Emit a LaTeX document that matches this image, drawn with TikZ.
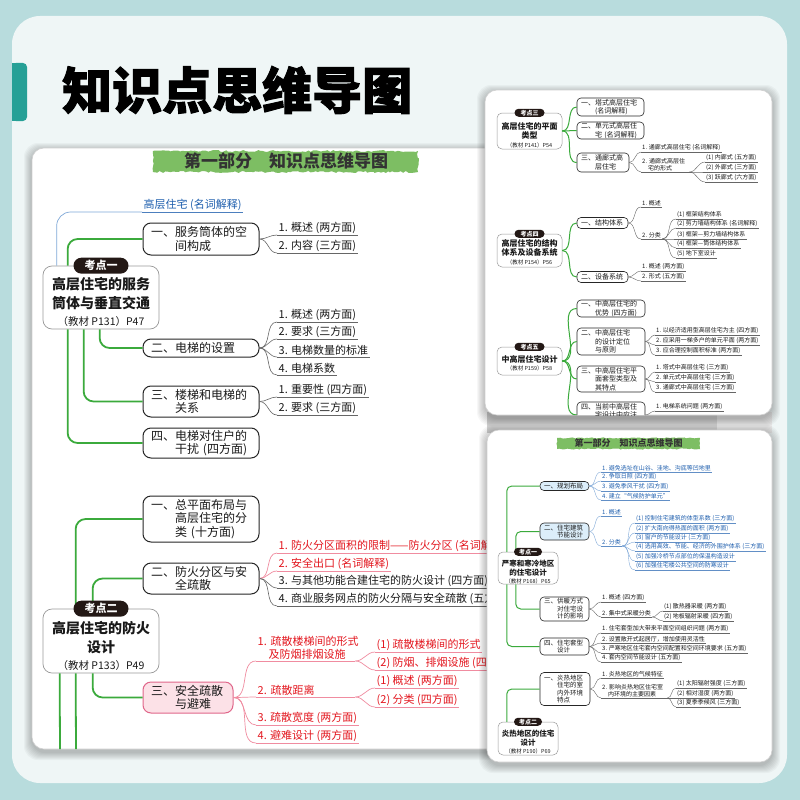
\documentclass[tikz,border=0pt]{standalone}
\usepackage{fontspec}
\setmainfont{Noto Sans CJK SC}
\newfontfamily\heavy{Noto Sans CJK SC}[BoldFeatures={FakeBold=2}]
\usetikzlibrary{decorations.pathmorphing}
\definecolor{bgteal}{HTML}{B8DCDD}
\definecolor{panelc}{HTML}{EFF6F6}
\definecolor{tabc}{HTML}{26A096}
\definecolor{gline}{HTML}{3BAA3C}
\definecolor{bluec}{HTML}{1F5FAE}
\definecolor{bluel}{HTML}{7FA8D8}
\definecolor{redc}{HTML}{E3161E}
\definecolor{pinkl}{HTML}{F08CA0}
\definecolor{pinkf}{HTML}{FCE1E7}
\definecolor{pinkd}{HTML}{E0668A}
\definecolor{pillc}{HTML}{231815}
\definecolor{bannerg}{HTML}{7DBE63}
\definecolor{lblue}{HTML}{DCEEFA}
\newcommand\leafn[5][]{\node[lf#1] (#2) at (#3,#4) {#5};\draw[ul#1] (#2.south west) -- (#2.south east);}
\newcommand\conn[3][]{\draw[lc#1] (#2) to[out=0,in=180] (#3);}
\newcommand\pshadow[4]{\foreach \i in {1,...,8}{\fill[black,opacity=0.03,rounded corners=14pt] (#1-\i,#2-\i+3) rectangle (#3+\i,#4+\i+3);}}
\begin{document}
\begin{tikzpicture}[x=1pt,y=-1pt,
 page/.style={fill=white,draw=black!18,line width=0.6pt,rounded corners=12pt},
 kd/.style={draw=black!40,fill=white,line width=0.7pt,rounded corners=9pt,inner sep=0pt},
 kdt/.style={align=center,inner sep=0pt,text=black!90,font=\bfseries\fontsize{14}{19}\selectfont},
 pill/.style={fill=pillc,text=white,rounded corners=8pt,inner sep=0pt,minimum width=55pt,minimum height=16pt,font=\bfseries\fontsize{11}{11}\selectfont},
 br/.style={draw=black!85,fill=white,line width=1pt,rounded corners=8pt,align=left,text width=100pt,inner xsep=8pt,inner ysep=0pt,minimum width=116pt,text=black!90,font=\fontsize{12}{13.5}\selectfont},
 gl/.style={draw=gline,line width=1.8pt,rounded corners=10pt},
 bline/.style={draw=bluel,line width=0.7pt,rounded corners=14pt},
 lf/.style={anchor=south west,inner xsep=1.5pt,inner ysep=1.5pt,text=black!90,font=\fontsize{11}{13}\selectfont},
 ul/.style={draw=black!60,line width=0.6pt},
 lc/.style={draw=black!60,line width=0.6pt},
 lfR/.style={lf,text=redc}, ulR/.style={draw=pinkl,line width=0.7pt}, lcR/.style={draw=pinkl,line width=0.7pt},
 lfRw/.style={lfR,text width=96pt,align=left}, ulRw/.style={ulR},
 lfB/.style={lf,text=bluec}, ulB/.style={draw=bluec!80,line width=0.6pt},
 kds/.style={draw=black!40,fill=white,line width=0.5pt,rounded corners=5pt,inner sep=0pt},
 kdts/.style={align=center,inner sep=0pt,text=black!90,font=\bfseries\fontsize{8}{9.5}\selectfont},
 kdts2/.style={kdts,font=\bfseries\fontsize{7.5}{9}\selectfont},
 pills/.style={fill=pillc,text=white,rounded corners=4pt,inner sep=0pt,minimum width=30pt,minimum height=8pt,font=\bfseries\fontsize{6}{6}\selectfont},
 brs/.style={draw=black!85,fill=white,line width=0.6pt,rounded corners=4pt,align=left,inner xsep=4pt,inner ysep=0pt,text=black!90,font=\fontsize{7}{8.5}\selectfont},
 brs6/.style={brs,font=\fontsize{6.5}{7.5}\selectfont},
 brs6B/.style={brs6,fill=lblue},
 gls/.style={draw=gline,line width=1pt},
 glr/.style={draw=gline,line width=1pt,rounded corners=5pt},
 lfs/.style={anchor=south west,inner xsep=1pt,inner ysep=1pt,text=black!90,font=\fontsize{6}{7}\selectfont},
 uls/.style={draw=black!60,line width=0.4pt},
 lcs/.style={draw=black!60,line width=0.4pt},
 lfsw/.style={lfs,text width=46pt,align=left}, ulsw/.style={uls},
 lfsw2/.style={lfs,text width=64pt,align=left}, ulsw2/.style={uls},
 lfsB/.style={lfs,text=bluec}, ulsB/.style={draw=bluec!70,line width=0.4pt}, lcsB/.style={draw=bluel,line width=0.4pt},
]
\useasboundingbox (0,0) rectangle (800,800);
\fill[bgteal] (0,0) rectangle (800,800);
\fill[panelc,rounded corners=28pt] (12,16) rectangle (787,783);
\fill[tabc,rounded corners=4pt] (12,63) rectangle (27,121);
\fill[tabc] (12,63) rectangle (18,121);
\node[anchor=west,inner sep=0pt,text=black,font=\heavy\bfseries\fontsize{50}{50}\selectfont] (title) at (62,90) {知识点思维导图};

% ================= main page =================
\pshadow{32}{148}{520}{749}
\filldraw[page] (32,148) rectangle (520,749);
\fill[bannerg,decorate,decoration={random steps,segment length=2.5pt,amplitude=1pt}] (153,151) rectangle (418,172);
\node[inner sep=0pt,text=black!80,font=\bfseries\fontsize{17}{17}\selectfont] (ban1) at (286,161) {第一部分\hspace{1em}知识点思维导图};

% kaodian 1
\node[kd,minimum width=116pt,minimum height=63pt] (k1) at (101,297.5) {};
\node[kdt] (k1t) at (101,302) {高层住宅的服务\\筒体与垂直交通\\[-2pt]{\mdseries\fontsize{10.5}{12}\selectfont （教材 P131）P47}};
\leafn[B]{l10}{142}{212}{高层住宅 (名词解释)}
\draw[bline] ([xshift=14pt]k1.north west) |- (l10.south west);
\node[br,minimum height=32pt] (b11) at (201,239) {一、服务筒体的空\\\hspace*{2em}间构成};
\node[br,minimum height=18pt] (b12) at (201,348) {二、电梯的设置};
\node[br,minimum height=31pt] (b13) at (201,401.5) {三、楼梯和电梯的\\\hspace*{2em}关系};
\node[br,minimum height=30pt] (b14) at (201,443) {四、电梯对住户的\\\hspace*{2em}干扰 (四方面)};
\draw[gl] ([xshift=25pt]k1.north west) |- (b11.west);
\draw[gl] ([xshift=57pt]k1.south west) |- (b12.west);
\draw[gl] ([xshift=41pt]k1.south west) |- (b13.west);
\draw[gl] ([xshift=25pt]k1.south west) |- (b14.west);
\node[pill] (p1) at (k1.north) {考点一};
\leafn{l111}{277}{235}{1. 概述 (两方面)}
\leafn{l112}{277}{253}{2. 内容 (三方面)}
\conn{b11.east}{l111.south west}
\conn{b11.east}{l112.south west}
\leafn{l121}{277}{322}{1. 概述 (两方面)}
\leafn{l122}{277}{339}{2. 要求 (三方面)}
\leafn{l123}{277}{357}{3. 电梯数量的标准}
\leafn{l124}{277}{375}{4. 电梯系数}
\conn{b12.east}{l121.south west}
\conn{b12.east}{l122.south west}
\conn{b12.east}{l123.south west}
\conn{b12.east}{l124.south west}
\leafn{l131}{277}{397}{1. 重要性 (四方面)}
\leafn{l132}{277}{415}{2. 要求 (三方面)}
\conn{b13.east}{l131.south west}
\conn{b13.east}{l132.south west}

% kaodian 2
\node[kd,minimum width=116pt,minimum height=64pt] (k2) at (101,641) {};
\node[kdt] (k2t) at (101,646) {高层住宅的防火\\设计\\[-2pt]{\mdseries\fontsize{10.5}{12}\selectfont （教材 P133）P49}};
\node[br,minimum height=46pt] (b21) at (201,519) {一、总平面布局与\\\hspace*{2em}高层住宅的分\\\hspace*{2em}类 (十方面)};
\node[br,minimum height=31pt] (b22) at (201,578.5) {二、防火分区与安\\\hspace*{2em}全疏散};
\node[br,draw=pinkd,fill=pinkf,text width=74pt,minimum width=90pt,minimum height=31pt] (b23) at (188,697.5) {三、安全疏散\\\hspace*{2em}与避难};
\coordinate (e1) at (60,749);
\coordinate (e2) at (76,749);
\draw[gl] ([xshift=33pt]k2.north west) |- (b21.west);
\draw[gl] ([xshift=50pt]k2.north west) |- (b22.west);
\draw[gl] ([xshift=50pt]k2.south west) |- (b23.west);
\draw[gl] ([xshift=17pt]k2.south west) -- (e1);
\draw[gl] ([xshift=33pt]k2.south west) -- (e2);
\node[pill] (p2) at (k2.north) {考点二};
\leafn[R]{l221}{277}{553}{1. 防火分区面积的限制——防火分区 (名词解释)}
\leafn[R]{l222}{277}{571}{2. 安全出口 (名词解释)}
\leafn{l223}{277}{588}{3. 与其他功能合建住宅的防火设计 (四方面)}
\leafn{l224}{277}{606}{4. 商业服务网点的防火分隔与安全疏散 (五方面)}
\conn[R]{b22.east}{l221.south west}
\conn[R]{b22.east}{l222.south west}
\conn{b22.east}{l223.south west}
\conn{b22.east}{l224.south west}
\leafn[Rw]{l231}{256}{661}{1.~疏散楼梯间的形式\\\hspace*{1em}及防烟排烟设施}
\leafn[Rw]{l232}{256}{697}{2.~疏散距离}
\leafn[R]{l233}{256}{725}{3. 疏散宽度 (两方面)}
\leafn[R]{l234}{256}{743}{4. 避难设计 (两方面)}
\conn[R]{b23.east}{l231.south west}
\conn[R]{b23.east}{l232.south west}
\conn[R]{b23.east}{l233.south west}
\conn[R]{b23.east}{l234.south west}
\leafn[R]{l2311}{375}{652}{(1) 疏散楼梯间的形式}
\leafn[R]{l2312}{375}{670}{(2) 防烟、排烟设施 (四方面)}
\leafn[R]{l2321}{375}{688}{(1) 概述 (两方面)}
\leafn[R]{l2322}{375}{707}{(2) 分类 (四方面)}
\conn[R]{l231.south east}{l2311.south west}
\conn[R]{l231.south east}{l2312.south west}
\conn[R]{l232.south east}{l2321.south west}
\conn[R]{l232.south east}{l2322.south west}

% gap between right pages
\fill[black!18] (487,412) rectangle (717,433);
\fill[black!9] (717,412) rectangle (772,433);

% ================= right top page =================
\pshadow{485}{90}{772}{415}
\filldraw[page] (485,90) rectangle (772,415);
\begin{scope}
\clip[rounded corners=12pt] (485,90) rectangle (772,415);
\node[kds,minimum width=65pt,minimum height=36pt] (k3) at (529.5,131) {};
\node[kdts] (k3t) at (529.5,135) {高层住宅的平面\\类型\\[-1pt]{\mdseries\fontsize{5.5}{7}\selectfont （教材 P141）P54}};
\node[pills] (p3) at (k3.north) {考点三};
\node[brs,text width=59pt,minimum height=18pt] (b31) at (610.5,107) {一、塔式高层住宅\\\hspace*{2em}(名词解释)};
\node[brs,text width=59pt,minimum height=17pt] (b32) at (610.5,130.5) {二、单元式高层住\\\hspace*{2em}宅 (名词解释)};
\node[brs,text width=44pt,minimum height=19pt] (b33) at (603,162.5) {三、通廊式高\\\hspace*{2em}层住宅};
\draw[gls] (k3.east) to[out=0,in=180] (b31.west);
\draw[gls] (k3.east) to[out=0,in=180] (b32.west);
\draw[gls] (k3.east) to[out=0,in=180] (b33.west);
\leafn[s]{l331}{641}{152}{1. 通廊式高层住宅 (名词解释)}
\leafn[sw]{l332}{641}{172}{2.~通廊式高层住\\\hspace*{1em}宅的形式}
\leafn[s]{l3321}{705}{162}{(1) 内廊式 (五方面)}
\leafn[s]{l3322}{705}{172}{(2) 外廊式 (三方面)}
\leafn[s]{l3323}{705}{182}{(3) 跃廊式 (六方面)}
\conn[s]{b33.east}{l331.south west}
\conn[s]{b33.east}{l332.south west}
\conn[s]{l332.south east}{l3321.south west}
\conn[s]{l332.south east}{l3322.south west}
\conn[s]{l332.south east}{l3323.south west}

\node[kds,minimum width=65pt,minimum height=33pt] (k4) at (529.5,250.5) {};
\node[kdts] (k4t) at (529.5,252) {高层住宅的结构\\体系及设备系统\\[-1pt]{\mdseries\fontsize{5.5}{7}\selectfont （教材 P154）P56}};
\node[pills] (p4) at (k4.north) {考点四};
\node[brs,text width=43pt,minimum height=11pt] (b41) at (602.5,223) {一、结构体系};
\node[brs,text width=43pt,minimum height=11pt] (b42) at (602.5,277) {二、设备系统};
\draw[gls] (k4.east) to[out=0,in=180] (b41.west);
\draw[gls] (k4.east) to[out=0,in=180] (b42.west);
\leafn[s]{l411}{641}{207}{1. 概述}
\leafn[s]{l412}{641}{239}{2. 分类}
\conn[s]{b41.east}{l411.south west}
\conn[s]{b41.east}{l412.south west}
\leafn[s]{l4121}{676}{219}{(1) 框架结构体系}
\leafn[s]{l4122}{676}{228}{(2) 剪力墙结构体系 (名词解释)}
\leafn[s]{l4123}{676}{239}{(3) 框架—剪力墙结构体系}
\leafn[s]{l4124}{676}{248}{(4) 框架—筒体结构体系}
\leafn[s]{l4125}{676}{258}{(5) 地下室设计}
\conn[s]{l412.south east}{l4121.south west}
\conn[s]{l412.south east}{l4122.south west}
\conn[s]{l412.south east}{l4123.south west}
\conn[s]{l412.south east}{l4124.south west}
\conn[s]{l412.south east}{l4125.south west}
\leafn[s]{l421}{641}{271}{1. 概述 (两方面)}
\leafn[s]{l422}{641}{281}{2. 形式 (五方面)}
\conn[s]{b42.east}{l421.south west}
\conn[s]{b42.east}{l422.south west}

\node[kds,minimum width=65pt,minimum height=28pt] (k5) at (529.5,361) {};
\node[kdts] (k5t) at (529.5,363.5) {中高层住宅设计\\[-1pt]{\mdseries\fontsize{5.5}{7}\selectfont （教材 P159）P58}};
\node[pills] (p5) at (k5.north) {考点五};
\node[brs,text width=60pt,minimum height=17pt] (b51) at (611,308.5) {一、中高层住宅的\\\hspace*{2em}优势 (四方面)};
\node[brs,text width=60pt,minimum height=27pt] (b52) at (611,341.5) {二、中高层住宅\\\hspace*{2em}的设计定位\\\hspace*{2em}与原则};
\node[brs,text width=60pt,minimum height=26pt] (b53) at (611,379) {三、中高层住宅平\\\hspace*{2em}面套型类型及\\\hspace*{2em}其特点};
\node[brs,text width=60pt,minimum height=26pt] (b54) at (611,415) {四、当前中高层住\\\hspace*{2em}宅设计中应注\\\hspace*{2em}意的问题};
\draw[gls] (k5.east) to[out=0,in=180] (b51.west);
\draw[gls] (k5.east) to[out=0,in=180] (b52.west);
\draw[gls] (k5.east) to[out=0,in=180] (b53.west);
\draw[gls] (k5.east) to[out=0,in=180] (b54.west);
\leafn[s]{l521}{655}{335}{1. 以经济适用型高层住宅为主 (四方面)}
\leafn[s]{l522}{655}{345}{2. 应采用一梯多户的单元平面 (两方面)}
\leafn[s]{l523}{655}{355}{3. 应合理控制面积标准 (两方面)}
\conn[s]{b52.east}{l521.south west}
\conn[s]{b52.east}{l522.south west}
\conn[s]{b52.east}{l523.south west}
\leafn[s]{l531}{655}{372}{1. 塔式中高层住宅 (三方面)}
\leafn[s]{l532}{655}{382}{2. 单元式中高层住宅 (三方面)}
\leafn[s]{l533}{655}{392}{3. 通廊式中高层住宅 (三方面)}
\conn[s]{b53.east}{l531.south west}
\conn[s]{b53.east}{l532.south west}
\conn[s]{b53.east}{l533.south west}
\leafn[s]{l541}{655}{411}{1. 电梯系统问题 (两方面)}
\conn[s]{b54.east}{l541.south west}
\end{scope}

% ================= right bottom page =================
\pshadow{487}{430}{772}{762}
\filldraw[page] (487,430) rectangle (772,762);
\begin{scope}
\clip[rounded corners=12pt] (487,430) rectangle (772,762);
\fill[bannerg,decorate,decoration={random steps,segment length=2pt,amplitude=0.6pt}] (557,438) rectangle (700,449);
\node[inner sep=0pt,text=black!80,font=\bfseries\fontsize{9}{9}\selectfont] (ban2) at (628.5,443.5) {第一部分\hspace{1em}知识点思维导图};

\node[kds,minimum width=60pt,minimum height=32pt] (k6) at (528,568) {};
\node[kdts2] (k6t) at (528,572) {严寒和寒冷地区\\的住宅设计\\[-1pt]{\mdseries\fontsize{5.5}{7}\selectfont （教材 P168）P65}};
\node[brs6B,text width=41pt,minimum height=9pt] (b61) at (564.5,486) {一、规划布局};
\node[brs6B,text width=41pt,minimum height=17pt] (b62) at (564.5,531.5) {二、住宅建筑\\\hspace*{2em}节能设计};
\node[brs6,text width=41pt,minimum height=24pt] (b63) at (564.5,609) {三、供暖方式\\\hspace*{2em}对住宅设\\\hspace*{2em}计的影响};
\node[brs6,text width=41pt,minimum height=17pt] (b64) at (564.5,646.5) {四、住宅套型\\\hspace*{2em}设计};
\draw[glr] ([xshift=9pt]k6.north west) |- (b61.west);
\draw[glr] ([xshift=18pt]k6.north west) |- (b62.west);
\draw[glr] ([xshift=18pt]k6.south west) |- (b63.west);
\draw[glr] ([xshift=9pt]k6.south west) |- (b64.west);
\node[pills,minimum width=28pt] (p6) at (k6.north) {考点一};
\leafn[sB]{l611}{601}{472}{1. 避免选址在山谷、洼地、沟底等凹地里}
\leafn[sB]{l612}{601}{481}{2. 争取日照 (四方面)}
\leafn[sB]{l613}{601}{491}{3. 避免季风干扰 (四方面)}
\leafn[sB]{l614}{601}{500}{4. 建立“气候防护单元”}
\conn[sB]{b61.east}{l611.south west}
\conn[sB]{b61.east}{l612.south west}
\conn[sB]{b61.east}{l613.south west}
\conn[sB]{b61.east}{l614.south west}
\leafn[sB]{l621}{601}{516}{1. 概述}
\leafn[sB]{l622}{601}{546}{2. 分类}
\conn[sB]{b62.east}{l621.south west}
\conn[sB]{b62.east}{l622.south west}
\leafn[sB]{l6221}{635}{523}{(1) 控制住宅建筑的体型系数 (三方面)}
\leafn[sB]{l6222}{635}{533}{(2) 扩大南向得热面的面积 (两方面)}
\leafn[sB]{l6223}{635}{542}{(3) 窗户的节能设计 (三方面)}
\leafn[sB]{l6224}{635}{551}{(4) 选用高效、节能、经济的外围护体系 (三方面)}
\leafn[sB]{l6225}{635}{561}{(5) 加强冷桥节点部位的保温构造设计}
\leafn[sB]{l6226}{635}{570}{(6) 加强住宅楼公共空间的防寒设计}
\conn[sB]{l622.south east}{l6221.south west}
\conn[sB]{l622.south east}{l6222.south west}
\conn[sB]{l622.south east}{l6223.south west}
\conn[sB]{l622.south east}{l6224.south west}
\conn[sB]{l622.south east}{l6225.south west}
\conn[sB]{l622.south east}{l6226.south west}
\leafn[s]{l631}{601}{602}{1. 概述 (四方面)}
\leafn[s]{l632}{601}{617}{2. 集中式采暖分类}
\conn[s]{b63.east}{l631.south west}
\conn[s]{b63.east}{l632.south west}
\leafn[s]{l6321}{663}{611}{(1) 散热器采暖 (两方面)}
\leafn[s]{l6322}{663}{621}{(2) 地板辐射采暖 (四方面)}
\conn[s]{l632.south east}{l6321.south west}
\conn[s]{l632.south east}{l6322.south west}
\leafn[s]{l641}{601}{633}{1. 住宅套型加大带来平面空间组织问题 (两方面)}
\leafn[s]{l642}{601}{643}{2. 设置敞开式起居厅，增加使用灵活性}
\leafn[s]{l643}{601}{653}{3. 严寒地区住宅套内空间配置和空间环境要求 (五方面)}
\leafn[s]{l644}{601}{662}{4. 套内空间节能设计 (五方面)}
\conn[s]{b64.east}{l641.south west}
\conn[s]{b64.east}{l642.south west}
\conn[s]{b64.east}{l643.south west}
\conn[s]{b64.east}{l644.south west}

\node[kds,minimum width=60pt,minimum height=33pt] (k7) at (528,738.5) {};
\node[kdts2] (k7t) at (528,742) {炎热地区的住宅\\设计\\[-1pt]{\mdseries\fontsize{5.5}{7}\selectfont （教材 P190）P69}};
\node[brs6,text width=42pt,minimum height=33pt] (b71) at (565,689) {一、炎热地区\\\hspace*{2em}住宅的室\\\hspace*{2em}内外环境\\\hspace*{2em}特点};
\draw[glr] ([xshift=9pt]k7.north west) |- (b71.west);
\node[pills,minimum width=28pt] (p7) at (k7.north) {考点二};
\leafn[s]{l711}{601}{678}{1. 炎热地区的气候特征}
\leafn[sw2]{l712}{601}{698}{2.~影响炎热地区住宅室\\\hspace*{1em}内环境的主要因素}
\conn[s]{b71.east}{l711.south west}
\conn[s]{b71.east}{l712.south west}
\leafn[s]{l7121}{676}{688}{(1) 太阳辐射强度 (三方面)}
\leafn[s]{l7122}{676}{698}{(2) 相对湿度 (两方面)}
\leafn[s]{l7123}{676}{707}{(3) 夏季季候风 (三方面)}
\conn[s]{l712.south east}{l7121.south west}
\conn[s]{l712.south east}{l7122.south west}
\conn[s]{l712.south east}{l7123.south west}
\end{scope}
\end{tikzpicture}
\end{document}
